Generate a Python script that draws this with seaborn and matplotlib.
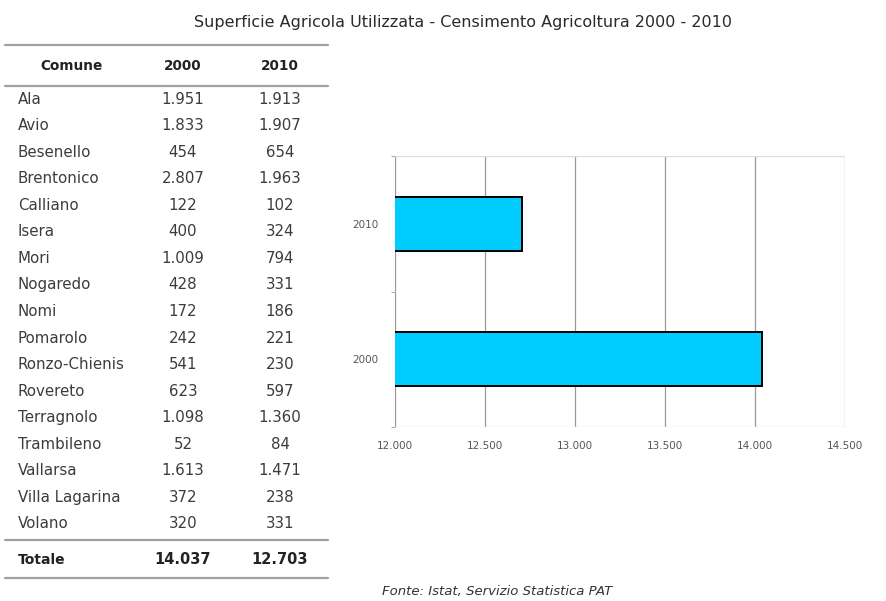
import matplotlib
matplotlib.use("Agg")
import matplotlib.pyplot as plt
import pandas as pd
import seaborn as sns

comuni = ["Ala", "Avio", "Besenello", "Brentonico", "Calliano", "Isera", "Mori",
          "Nogaredo", "Nomi", "Pomarolo", "Ronzo-Chienis", "Rovereto", "Terragnolo",
          "Trambileno", "Vallarsa", "Villa Lagarina", "Volano"]
sau_2000 = ["1.951", "1.833", "454", "2.807", "122", "400", "1.009", "428", "172",
            "242", "541", "623", "1.098", "52", "1.613", "372", "320"]
sau_2010 = ["1.913", "1.907", "654", "1.963", "102", "324", "794", "331", "186",
            "221", "230", "597", "1.360", "84", "1.471", "238", "331"]
totale_2000 = 14037
totale_2010 = 12703

years = ["2010", "2000"]
totals = [totale_2010, totale_2000]
x_ticks = [12000, 12500, 13000, 13500, 14000, 14500]


def it_fmt(v):
    return f"{v:,}".replace(",", ".")


sns.set_style("white")
plt.rcParams["font.family"] = ["DejaVu Sans"]

W, H = 887, 601
fig = plt.figure(figsize=(W / 100, H / 100), dpi=100)


def fx(px):
    return px / W


def fy(py):
    return 1 - py / H


# title
fig.text(fx(463), fy(22), "Superficie Agricola Utilizzata - Censimento Agricoltura 2000 - 2010",
         ha="center", va="center", fontsize=11.5, color="#2a2a2a")

# table
txt = "#3c3c3c"
line_col = "#a0a0a0"
for y in (45, 86, 540, 578):
    fig.add_artist(plt.Line2D([fx(5), fx(328)], [fy(y), fy(y)], color=line_col, lw=1.6))
for xp, lab in ((72, "Comune"), (183, "2000"), (280, "2010")):
    fig.text(fx(xp), fy(66), lab, ha="center", va="center", fontsize=9.8,
             weight="bold", color="#222222")
row0, step = 99, (524 - 99) / 16
for i, (c, a, b) in enumerate(zip(comuni, sau_2000, sau_2010)):
    y = fy(row0 + i * step)
    fig.text(fx(18), y, c, ha="left", va="center", fontsize=10.8, color=txt)
    fig.text(fx(183), y, a, ha="center", va="center", fontsize=10.8, color=txt)
    fig.text(fx(280), y, b, ha="center", va="center", fontsize=10.8, color=txt)
fig.text(fx(18), fy(560), "Totale", ha="left", va="center", fontsize=10, weight="bold", color="#222222")
fig.text(fx(183), fy(560), it_fmt(totale_2000), ha="center", va="center", fontsize=10.5, weight="bold", color="#222222")
fig.text(fx(280), fy(560), it_fmt(totale_2010), ha="center", va="center", fontsize=10.5, weight="bold", color="#222222")

# bar chart
ax = fig.add_axes([fx(395), fy(427), fx(845 - 395), (427 - 156) / H])
df = pd.DataFrame({"anno": years, "sau": totals})
sns.barplot(data=df, x="sau", y="anno", order=years, orient="h", ax=ax,
            color="#00ccff", saturation=1, width=0.4, edgecolor="black", linewidth=1.4)
ax.set_xlim(x_ticks[0], x_ticks[-1])
ax.set_ylim(1.5, -0.5)
ax.set_xticks(x_ticks)
ax.set_xticklabels([it_fmt(v) for v in x_ticks], fontsize=7.5, color="#555555")
ax.set_yticks([0, 1])
ax.set_yticklabels(years, fontsize=7.5, color="#555555")
ax.set_yticks([-0.5, 0.5, 1.5], minor=True)
ax.tick_params(axis="both", which="major", length=0)
ax.tick_params(axis="x", pad=10)
ax.tick_params(axis="y", pad=12)
ax.tick_params(axis="y", which="minor", left=True, length=3, color="#aaaaaa", width=0.8)
ax.set_xlabel("")
ax.set_ylabel("")
ax.grid(axis="x", color="#999999", lw=0.9)
ax.set_axisbelow(True)
for s in ax.spines.values():
    s.set_visible(False)
ax.axhline(-0.5, color="#dddddd", lw=1)
ax.axhline(1.5, color="#dddddd", lw=1)

fig.text(fx(497), fy(592), "Fonte: Istat, Servizio Statistica PAT", ha="center", va="center",
         fontsize=9.5, style="italic", color="#333333")

fig.savefig("out.png", dpi=100, facecolor="white")
